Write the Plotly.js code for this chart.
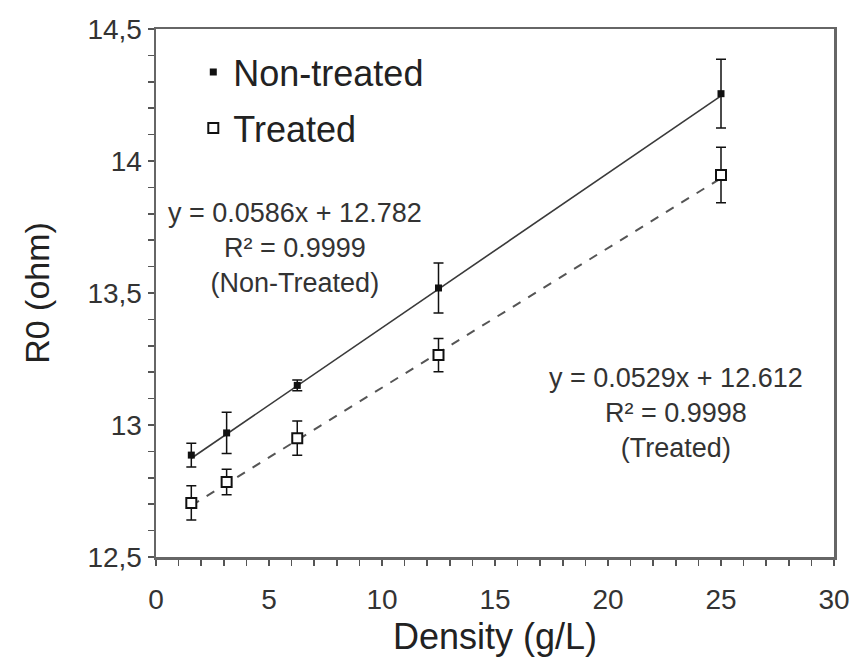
<!DOCTYPE html>
<html>
<head>
<meta charset="utf-8">
<script src="https://cdn.plot.ly/plotly-3.0.1.min.js"></script>
<style>html,body{margin:0;padding:0;background:#fff;}#chart{width:857px;height:668px;}</style>
</head>
<body>
<div id="chart"></div>
<script>
// Data
const densities = [1.5625, 3.125, 6.25, 12.5, 25];
const nonTreated = [12.886, 12.97, 13.15, 13.519, 14.255];
const nonTreatedErr = [0.045, 0.078, 0.02, 0.095, 0.13];
const treated = [12.705, 12.784, 12.95, 13.265, 13.947];
const treatedErr = [0.065, 0.048, 0.065, 0.063, 0.105];
// Linear trendline endpoints (as drawn in the reference)
const trendX = [1.5625, 25];
const nonTreatedTrend = [12.874, 14.247];
const treatedTrend = [12.695, 13.935];
const seriesNames = ["Non-treated", "Treated"];
const eqNonTreated = "y = 0.0586x + 12.782<br>R² = 0.9999<br>(Non-Treated)";
const eqTreated = "y = 0.0529x + 12.612<br>R² = 0.9998<br>(Treated)";

const FONT = "Liberation Sans, Arial, sans-serif";

const traces = [
  {x: trendX, y: nonTreatedTrend, mode: "lines", line: {color: "#3a3a3a", width: 1.6}, showlegend: false, hoverinfo: "skip"},
  {x: trendX, y: treatedTrend, mode: "lines", line: {color: "#555", width: 2, dash: "dash"}, showlegend: false, hoverinfo: "skip"},
  {x: densities, y: nonTreated, name: seriesNames[0], mode: "markers", legendgroup: "a",
   marker: {symbol: "square", size: 7, color: "#111"},
   error_y: {type: "data", array: nonTreatedErr, visible: true, color: "#111", thickness: 1.5, width: 5}},
  {x: densities, y: treated, name: seriesNames[1], mode: "markers", legendgroup: "b",
   marker: {symbol: "square", size: 10, color: "#fff", line: {color: "#111", width: 2}},
   error_y: {type: "data", array: treatedErr, visible: true, color: "#111", thickness: 1.5, width: 5}}
];

const layout = {
  width: 857, height: 668,
  margin: {l: 156, r: 23, t: 29, b: 111},
  paper_bgcolor: "#fff", plot_bgcolor: "#fff",
  separators: ",.",
  font: {family: FONT, color: "#333"},
  showlegend: true,
  legend: {x: 0.055, y: 0.975, xanchor: "left", yanchor: "top", font: {family: FONT, size: 36, color: "#222"},
           bgcolor: "rgba(0,0,0,0)", tracegroupgap: 6},
  xaxis: {range: [0, 30], dtick: 5, tick0: 0, showgrid: false, zeroline: false,
          showline: true, linecolor: "#666", linewidth: 2.5, mirror: true,
          ticks: "outside", ticklen: 6, tickwidth: 1.5, tickcolor: "#555", ticklabelstandoff: 10,
          minor: {dtick: 1, ticks: "outside", ticklen: 6, tickwidth: 1.5, tickcolor: "#555", showgrid: false},
          tickfont: {family: FONT, size: 28, color: "#333"},
          title: {text: "Density (g/L)", font: {family: FONT, size: 36, color: "#222"}, standoff: 10}},
  yaxis: {range: [12.5, 14.5], dtick: 0.5, tick0: 12.5, showgrid: false, zeroline: false,
          showline: true, linecolor: "#666", linewidth: 2.5, mirror: true,
          ticks: "outside", ticklen: 6, tickwidth: 1.5, tickcolor: "#555",
          minor: {dtick: 0.1, ticks: "outside", ticklen: 6, tickwidth: 1.5, tickcolor: "#555", showgrid: false},
          tickfont: {family: FONT, size: 28, color: "#333"},
          title: {text: "R0 (ohm)", font: {family: FONT, size: 34, color: "#222"}, standoff: 28}},
  annotations: [
    {x: 6.15, y: 13.67, xref: "x", yref: "y", text: eqNonTreated, showarrow: false,
     font: {family: FONT, size: 27, color: "#333"}, align: "center"},
    {x: 23.0, y: 13.045, xref: "x", yref: "y", text: eqTreated, showarrow: false,
     font: {family: FONT, size: 27, color: "#333"}, align: "center"}
  ]
};

Plotly.newPlot("chart", traces, layout, {displayModeBar: false, staticPlot: true});
</script>
</body>
</html>
